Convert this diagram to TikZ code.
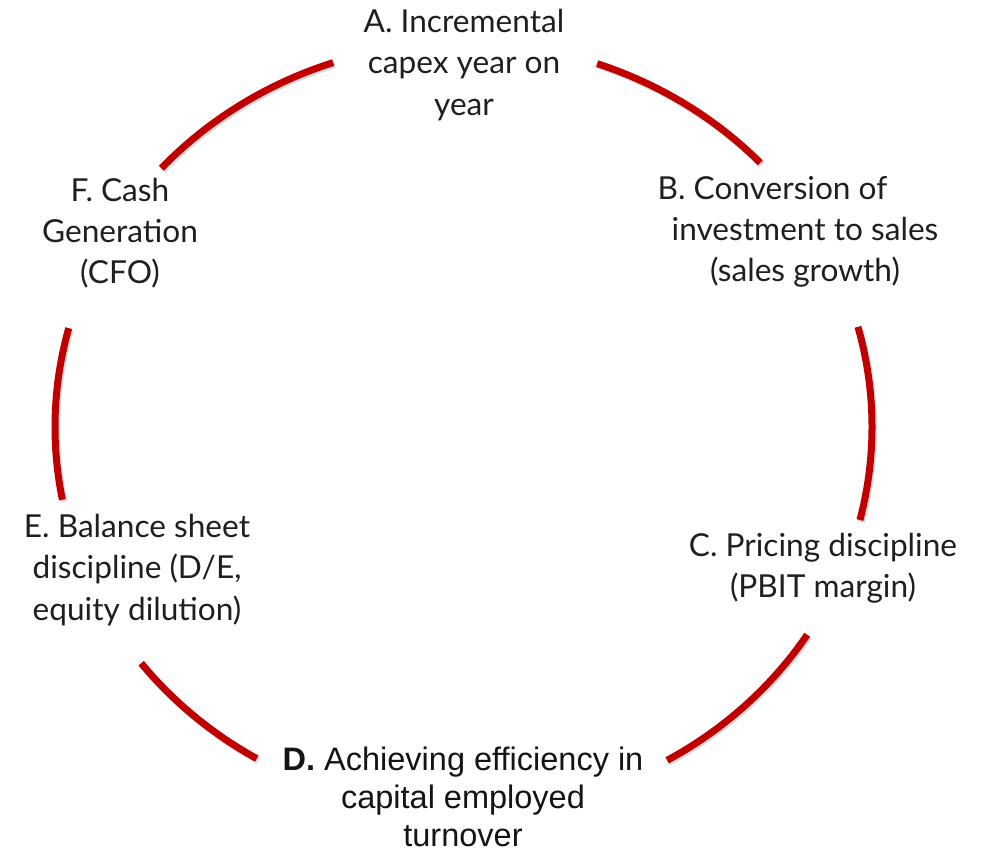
\documentclass[tikz,border=0pt]{standalone}
\usepackage{fontspec}
\setmainfont{Lato}
\newfontfamily\arialfont{Liberation Sans}

\definecolor{ringred}{HTML}{C00000}
\tikzset{
  ring/.style={line width=0.14cm, draw=ringred},
  ringshade/.style={line width=0.14cm, draw=black, opacity=0.14},
  lbl/.style={align=center, text=black!88, inner sep=0pt, font=\fontsize{18}{23.5}\selectfont},
  dlbl/.style={align=center, text=black!92, inner sep=0pt, font=\arialfont\fontsize{18.5}{21.5}\selectfont},
}

\begin{document}
\begin{tikzpicture}[x=0.02cm, y=-0.02cm]
\useasboundingbox (0,0) rectangle (989,852);

% ring pieces between the labels
\foreach \s/\e in {-70.9/-43.4, -15.1/14.0, 32.7/60.1, 120.4/142.1, 169.1/194.9, 222.3/251.4}
	\draw[ringshade, shift={(465,429)}] (\s:408.5 and 384.5) arc[start angle=\s, end angle=\e, x radius=408.5, y radius=384.5];
\foreach \s/\e in {-70.9/-43.4, -15.1/14.0, 32.7/60.1, 120.4/142.1, 169.1/194.9, 222.3/251.4}
	\draw[ring, shift={(463.5,427)}] (\s:408.5 and 384.5) arc[start angle=\s, end angle=\e, x radius=408.5, y radius=384.5];

% labels
\node[lbl] (A) at (464,65) {A. Incremental\\capex year on\\year};
\node[lbl] (B) at (805,232) {B. Conversion of\hspace*{1.3cm}\\investment to sales\\(sales growth)};
\node[lbl] (C) at (823,568) {C. Pricing discipline\\(PBIT margin)};
\node[dlbl] (D) at (463,797) {\textbf{D.} Achieving efficiency in\\capital employed\\turnover};
\node[lbl] (E) at (137,570) {E. Balance sheet\\discipline (D/E,\\equity dilution)};
\node[lbl] (F) at (120,233) {F. Cash\\Generation\\(CFO)};

\end{tikzpicture}
\end{document}
